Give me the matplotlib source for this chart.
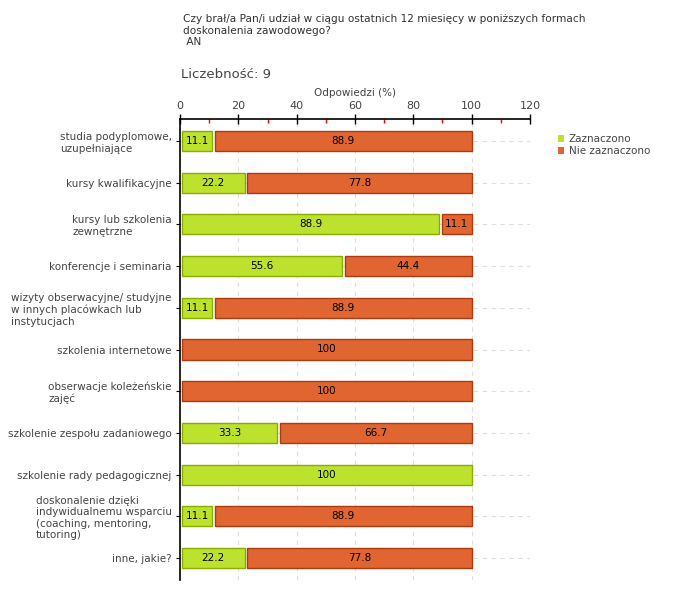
import matplotlib.pyplot as plt
from matplotlib.patches import Patch
import numpy as np

categories = [
    "studia podyplomowe,\nuzupełniające",
    "kursy kwalifikacyjne",
    "kursy lub szkolenia\nzewnętrzne",
    "konferencje i seminaria",
    "wizyty obserwacyjne/ studyjne\nw innych placówkach lub\ninstytucjach",
    "szkolenia internetowe",
    "obserwacje koleżeńskie\nzajęć",
    "szkolenie zespołu zadaniowego",
    "szkolenie rady pedagogicznej",
    "doskonalenie dzięki\nindywidualnemu wsparciu\n(coaching, mentoring,\ntutoring)",
    "inne, jakie?",
]
zaznaczono = [11.1, 22.2, 88.9, 55.6, 11.1, 0, 0, 33.3, 100, 11.1, 22.2]
nie_zaznaczono = [88.9, 77.8, 11.1, 44.4, 88.9, 100, 100, 66.7, 0, 88.9, 77.8]
series_names = ["Zaznaczono", "Nie zaznaczono"]

GREEN = "#bde22e"
GREEN_EDGE = "#8aab00"
ORANGE = "#e06530"
ORANGE_EDGE = "#b03a10"
TXT = "#444444"

fig = plt.figure(figsize=(6.8, 6.0), dpi=100)
ax = fig.add_axes([180 / 680, 1 - 580 / 600, 350 / 680, 461 / 600])

y = np.arange(len(categories))
gap = 0.9   # small visual gap between segments
start = 0.6  # bars start a little right of the axis

for i in range(len(categories)):
    g = zaznaczono[i]
    o = nie_zaznaczono[i]
    if g > 0:
        ax.barh(y[i], g - start, left=start, height=0.48, color=GREEN,
                edgecolor=GREEN_EDGE, linewidth=1, zorder=3)
        ax.text(start + (g - start) / 2, y[i], f"{g:g}", ha="center", va="center",
                fontsize=7.5, color="black", zorder=4)
    if o > 0:
        left = g + gap if g > 0 else start
        ax.barh(y[i], g + o - left, left=left, height=0.48, color=ORANGE,
                edgecolor=ORANGE_EDGE, linewidth=1, zorder=3)
        ax.text(left + (g + o - left) / 2, y[i], f"{o:g}", ha="center", va="center",
                fontsize=7.5, color="black", zorder=4)

ax.set_xlim(0, 120)
ax.set_ylim(len(categories) - 0.47, -0.53)

# grid
for xv in range(20, 121, 20):
    ax.axvline(xv, color="#dddddd", linestyle=(0, (4, 4)), linewidth=0.8, zorder=1)
for yv in y:
    ax.axhline(yv, color="#dddddd", linestyle=(0, (4, 4)), linewidth=0.8, zorder=1)

ax.xaxis.tick_top()
ax.xaxis.set_label_position("top")
ax.set_xticks(range(0, 121, 20))
ax.set_xticks(range(10, 120, 20), minor=True)
ax.tick_params(axis="x", which="major", direction="inout", length=7, width=1,
               colors="black", labelcolor=TXT, labelsize=8, pad=2)
ax.tick_params(axis="x", which="minor", direction="in", length=3, width=1, color="red")
ax.set_xlabel("Odpowiedzi (%)", fontsize=7.5, color=TXT, labelpad=4)

ax.set_yticks(y)
ax.set_yticklabels(categories, fontsize=7.5, color=TXT, ha="right", multialignment="left")
ax.tick_params(axis="y", direction="out", length=3, color="black", pad=3)

for s in ["right", "bottom"]:
    ax.spines[s].set_visible(False)
ax.spines["top"].set_linewidth(1.2)
ax.spines["left"].set_linewidth(1.2)

# titles
fig.text(183 / 680, 1 - 14 / 600,
         "Czy brał/a Pan/i udział w ciągu ostatnich 12 miesięcy w poniższych formach\n"
         "doskonalenia zawodowego?\n AN",
         fontsize=7.6, color="#333333", va="top", ha="left", linespacing=1.2)
fig.text(181 / 680, 1 - 75 / 600, "Liczebność: 9", fontsize=9.5, color="#444444",
         va="center", ha="left")

# legend
handles = [Patch(facecolor=GREEN, edgecolor="none"), Patch(facecolor=ORANGE, edgecolor="none")]
fig.legend(handles, series_names, loc="upper left", bbox_to_anchor=(553 / 680, 1 - 129 / 600),
           frameon=False, fontsize=7.5, handlelength=0.6, handleheight=0.6,
           handletextpad=0.4, labelspacing=0.2, borderpad=0, labelcolor=TXT)

fig.savefig("out.png", dpi=100)
